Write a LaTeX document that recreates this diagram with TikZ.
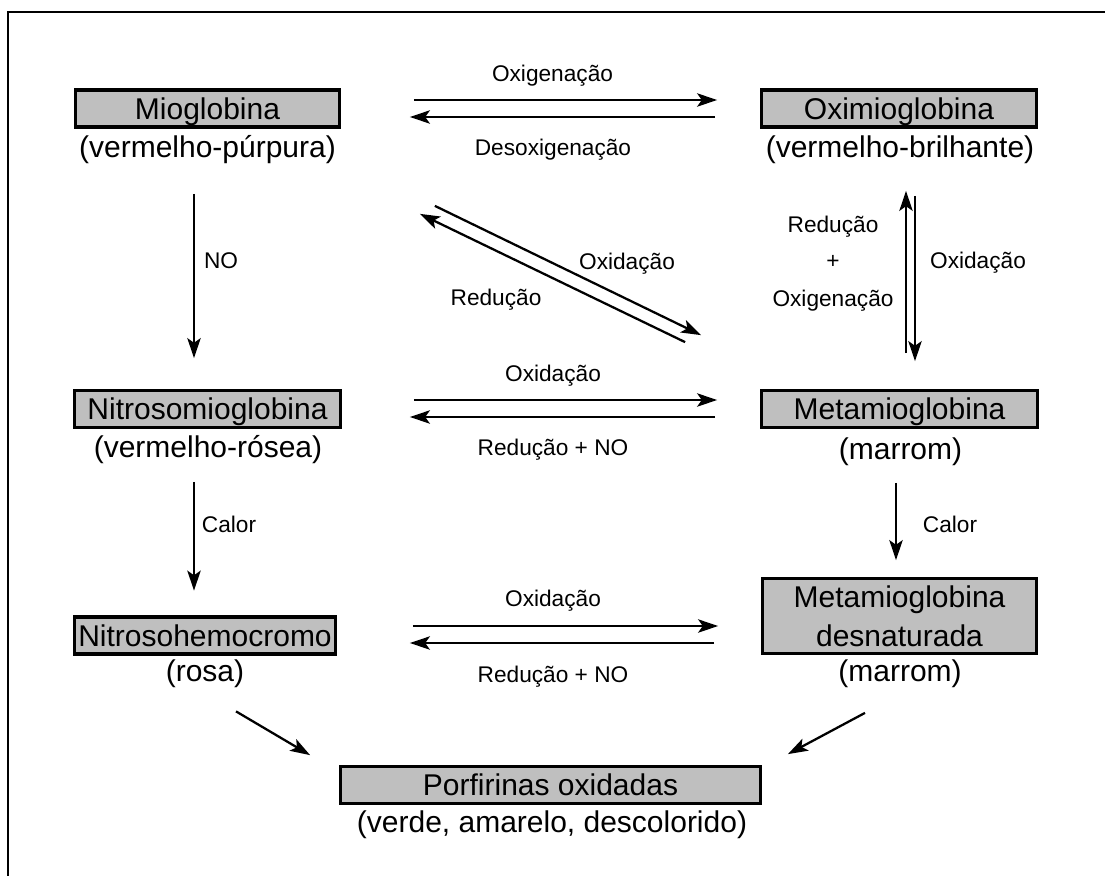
\documentclass[tikz,border=0pt]{standalone}
\usepackage{fontspec}
\setmainfont{Liberation Sans}
\usetikzlibrary{arrows.meta}
\begin{document}
\begin{tikzpicture}[x=0.75pt,y=-0.75pt,
  box/.style={draw=black,line width=2.8pt,fill=black!25,inner sep=0pt,
    minimum height=27.75pt,font=\fontsize{22.5}{29}\selectfont,
    text height=16pt,text depth=0pt},
  sub/.style={inner sep=0pt,font=\fontsize{22.5}{29}\selectfont,
    text height=16pt,text depth=0pt},
  lbl/.style={inner sep=0pt,font=\fontsize{17}{20}\selectfont,
    text height=12.2pt,text depth=0pt},
  arr/.style={line width=1.7pt,-{Stealth[length=15pt,width=10pt,inset=3.5pt]}},
]
\useasboundingbox (0,0) rectangle (1105,875);
\draw[line width=1.6pt] (8,880) -- (8,12) -- (1110,12);

% boxes
\node[box,minimum width=198pt] (mio) at (207.5,108.5) {Mioglobina};
\node[box,minimum width=206.25pt] (oxi) at (899,108.5) {Oximioglobina};
\node[box,minimum width=199.5pt] (nitro) at (207.5,409) {Nitrosomioglobina};
\node[box,minimum width=207pt] (meta) at (899.5,409) {Metamioglobina};
\node[box,minimum width=195.75pt] (nhc) at (205,635.5) {Nitrosohemocromo};
\node[box,minimum width=205.5pt,minimum height=56.25pt] (dmeta) at (899.5,616) {};
\node[sub] (dmeta1) at (899.5,596.5) {Metamioglobina};
\node[sub] (dmeta2) at (899.5,636) {desnaturada};
\node[box,minimum width=315pt] (por) at (550.5,785) {Porfirinas oxidadas};

% subtitles
\node[sub] (miosub) at (207.5,147) {(vermelho-púrpura)};
\node[sub] (oxisub) at (900,147) {(vermelho-brilhante)};
\node[sub] (nitrosub) at (208,447) {(vermelho-rósea)};
\node[sub] (metasub) at (900.5,449) {(marrom)};
\node[sub] (nhcsub) at (205,671) {(rosa)};
\node[sub] (dmetasub) at (900,671) {(marrom)};
\node[sub] (porsub) at (552,822) {(verde, amarelo, descolorido)};

% connectors
\draw[arr] ([shift={(72.5,-8.5)}]mio.east) -- ([shift={(-42.5,-8.5)}]oxi.west);
\draw[arr] ([shift={(-44.5,8.5)}]oxi.west) -- ([shift={(68.5,8.5)}]mio.east);
\draw[arr] ([shift={(71.5,-9)}]nitro.east) -- ([shift={(-42.5,-9)}]meta.west);
\draw[arr] ([shift={(-44.5,8)}]meta.west) -- ([shift={(67.5,8)}]nitro.east);
\draw[arr] ([shift={(75.5,-9.5)}]nhc.east) -- ([shift={(-42.5,10)}]dmeta.west);
\draw[arr] ([shift={(-46.5,27)}]dmeta.west) -- ([shift={(72.5,7.5)}]nhc.east);
\draw[arr] ([shift={(-13.5,65)}]mio.south) -- ([shift={(-13.5,-30.5)}]nitro.north);
\draw[arr] ([shift={(-13.5,52.5)}]nitro.south) -- ([shift={(-11,-24.5)}]nhc.north);
\draw[arr] ([shift={(-3.5,53.5)}]meta.south) -- ([shift={(-3.5,-16.5)}]dmeta.north);
\draw[arr] ([shift={(6.5,-35.5)}]meta.north) -- ([shift={(7,62)}]oxi.south);
\draw[arr] ([shift={(16,67)}]oxi.south) -- ([shift={(15.5,-27.5)}]meta.north);
\draw[arr] ([shift={(93.5,77)}]mio.south east) -- ([shift={(-58.5,-53.5)}]meta.north west);
\draw[arr] ([shift={(-74.5,-46.5)}]meta.north west) -- ([shift={(78.5,85)}]mio.south east);
\draw[arr] ([shift={(31,55.5)}]nhc.south) -- ([shift={(-28.5,-9.5)}]por.north west);
\draw[arr] ([shift={(-34.5,57.5)}]dmeta.south) -- ([shift={(25.5,-10.5)}]por.north east);

% labels
\node[lbl] (l1) at (552.5,73) {Oxigenação};
\node[lbl] (l2) at (553,147) {Desoxigenação};
\node[lbl] (l3) at (553,373) {Oxidação};
\node[lbl] (l4) at (553,447) {Redução + NO};
\node[lbl] (l5) at (553,598) {Oxidação};
\node[lbl] (l6) at (553,674) {Redução + NO};
\node[lbl] (l7) at (221,260) {NO};
\node[lbl] (l8) at (229,524) {Calor};
\node[lbl] (l9) at (950,524) {Calor};
\node[lbl] (l10) at (833,224) {Redução};
\node[lbl] (l11) at (833,260) {+};
\node[lbl] (l12) at (833,298) {Oxigenação};
\node[lbl] (l13) at (978,260) {Oxidação};
\node[lbl] (l14) at (627,261) {Oxidação};
\node[lbl] (l15) at (496,297) {Redução};
\end{tikzpicture}
\end{document}
